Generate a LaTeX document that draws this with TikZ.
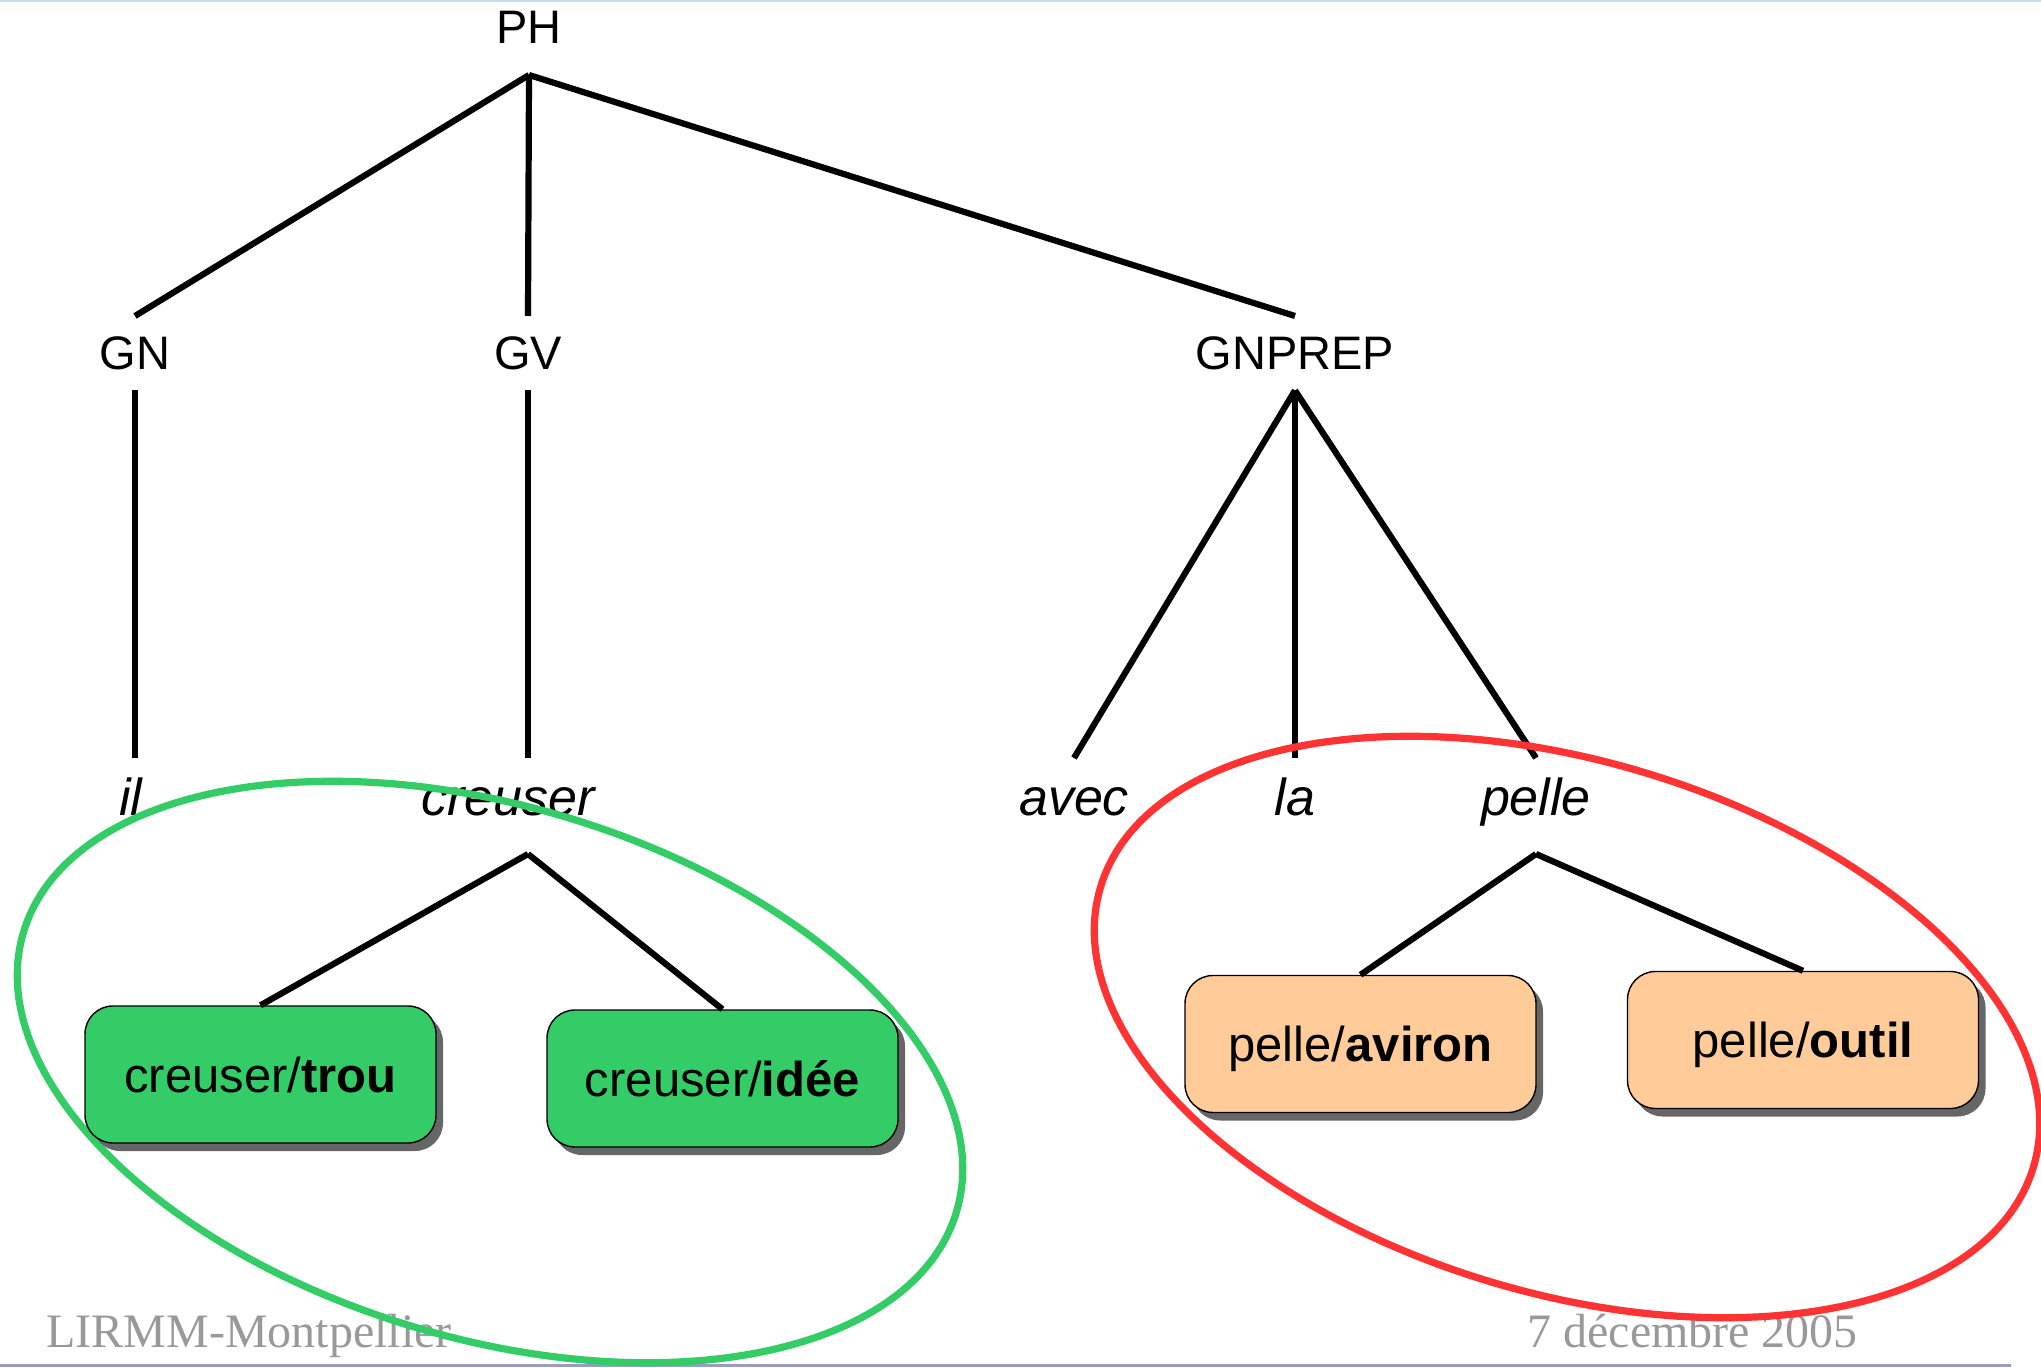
\documentclass[tikz,border=0pt]{standalone}
\usepackage{fontspec}
\setmainfont{Liberation Sans}
\newfontfamily\footfont{Liberation Serif}
\usetikzlibrary{shadows,shapes.geometric,calc}
\definecolor{boxgreen}{HTML}{33CC66}
\definecolor{ringgreen}{HTML}{33CC66}
\definecolor{ringred}{HTML}{FF3333}
\definecolor{peach}{HTML}{FFCC99}
\definecolor{shadowgray}{HTML}{666666}
\definecolor{footgray}{HTML}{999999}
\definecolor{rulepurple}{HTML}{9C9CC0}
\definecolor{ruleblue}{HTML}{C8DCEA}
\begin{document}
\begin{tikzpicture}[x=0.5pt,y=-0.5pt,
  cat/.style={font=\fontsize{23.5}{28}\selectfont, inner sep=0pt, text height=16.8pt, text depth=0pt, outer sep=10.2pt, anchor=base},
  word/.style={font=\fontsize{26}{31}\selectfont\itshape, inner sep=0pt, text height=18.6pt, text depth=8.6pt, outer sep=10.4pt, anchor=base},
  branch/.style={line width=3.1pt},
  sense/.style={draw=black, line width=0.7pt, rounded corners=14pt, minimum width=175.5pt, minimum height=68.5pt, inner sep=0pt, text height=17.5pt, text depth=0pt, font=\fontsize{24.5}{29}\selectfont, drop shadow={shadow xshift=3.5pt, shadow yshift=-4pt, fill=shadowgray, opacity=1}},
  ring/.style={ellipse, line width=3.6pt, minimum width=487pt, minimum height=266pt, inner sep=0pt, rotate=-16.7},
  foot/.style={font=\footfont\fontsize{24}{29}\selectfont, text=footgray, anchor=base west, inner sep=0pt}
]
\useasboundingbox (0,0) rectangle (2041,1368);

% page rules
\draw[ruleblue, line width=1pt] (0,1) -- (2041,1);
\draw[rulepurple, line width=1.5pt] (0,1365) -- (2011,1365);

% tree labels
\node[cat, outer sep=15.5pt] (PH) at (529,44) {PH};
\node[cat] (GN) at (135,370) {GN};
\node[cat] (GV) at (528,370) {GV};
\node[cat] (GNPREP) at (1295,370) {GNPREP};

\node[word] (il) at (131,816) {il};
\node[word] (creuser) at (508,816) {creuser};
\node[word] (avec) at (1074,816) {avec};
\node[word] (la) at (1295,816) {la};
\node[word] (pelle) at (1536,816) {pelle};

% branches
\draw[branch] (PH.south) -- (GN.north);
\draw[branch] (PH.south) -- (GV.north);
\draw[branch] (PH.south) -- (GNPREP.north);
\draw[branch] (GN.south) -- (GN.south |- il.north);
\draw[branch] (GV.south) -- (GV.south |- creuser.north);
\draw[branch] (GNPREP.south) -- (avec.north);
\draw[branch] (GNPREP.south) -- (la.north);
\draw[branch] (GNPREP.south) -- (pelle.north);

% footer
\node[foot] (lirmm) at (46,1347) {LIRMM-Montpellier};
\node[foot] (date) at (1527,1347) {7 décembre 2005};

% rings
\node[ring, draw=ringgreen] (grpA) at (490,1072) {};
\node[ring, draw=ringred] (grpB) at (1567,1027) {};

% sense boxes
\node[sense, fill=boxgreen] (trou) at (260.5,1074.5) {creuser/\textbf{trou}};
\node[sense, fill=boxgreen] (idee) at (722.5,1078.5) {creuser/\textbf{idée}};
\node[sense, fill=peach] (aviron) at (1360.5,1044) {pelle/\textbf{aviron}};
\node[sense, fill=peach] (outil) at (1803,1040) {pelle/\textbf{outil}};

\coordinate (cj) at (GV.south |- creuser.south);
\draw[branch] (cj) -- (trou.north);
\draw[branch] (cj) -- (idee.north);
\draw[branch] (pelle.south) -- (aviron.north);
\draw[branch] (pelle.south) -- (outil.north);
\end{tikzpicture}
\end{document}
